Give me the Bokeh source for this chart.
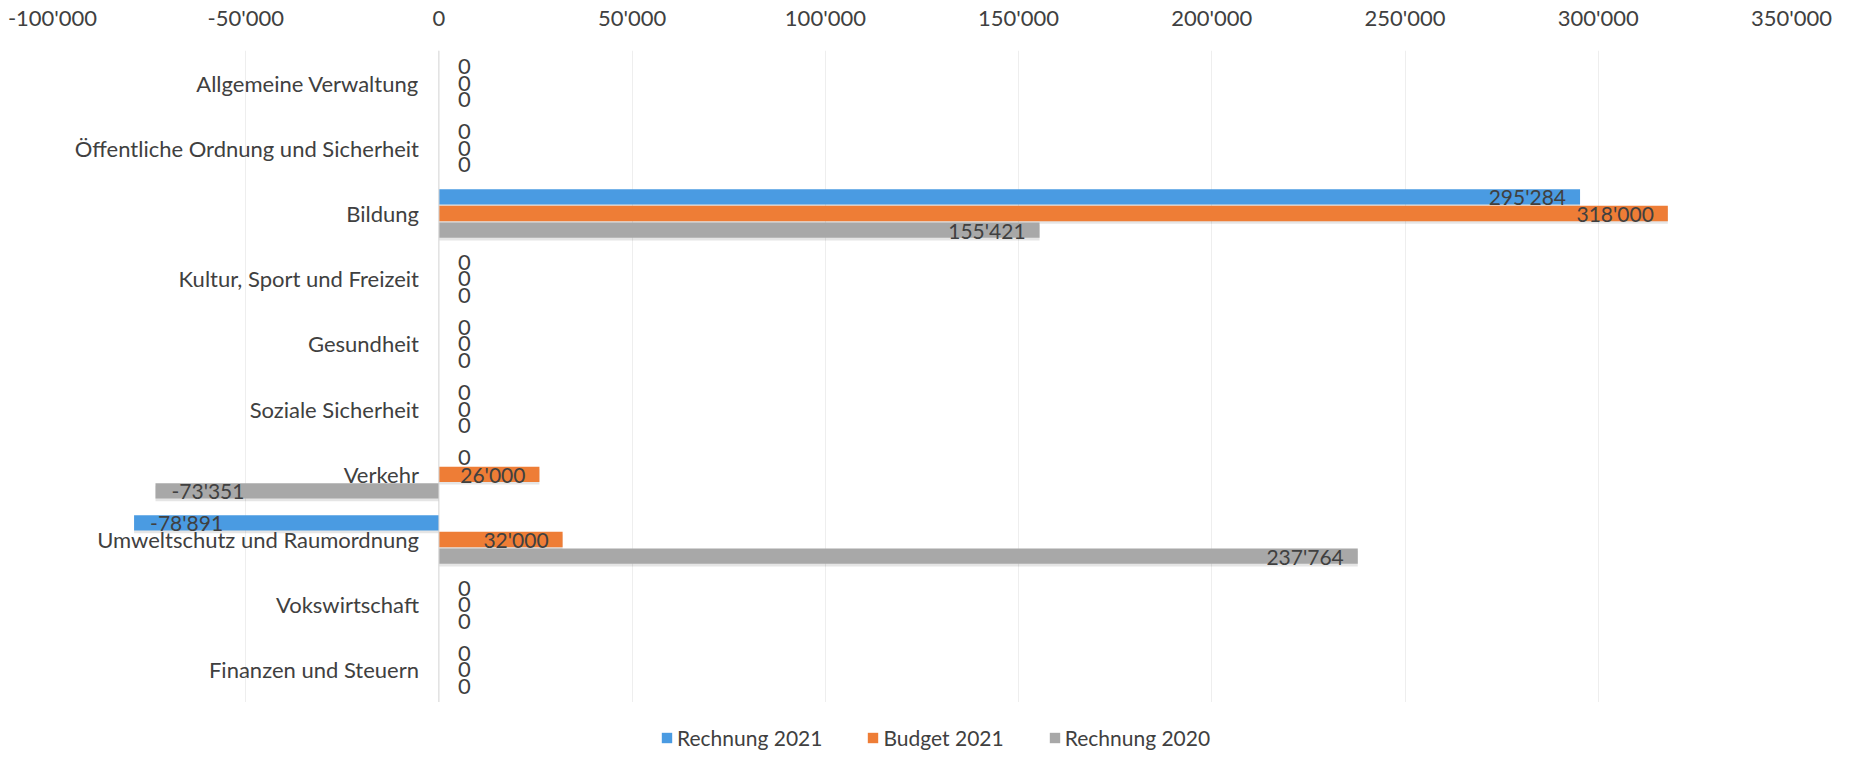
from bokeh.plotting import figure
from bokeh.layouts import column
from bokeh.models import (FactorRange, ColumnDataSource, FixedTicker, Span,
                          Legend, LegendItem)
from bokeh.transform import dodge
from bokeh.core.properties import value
from bokeh.embed import file_html
from bokeh.resources import INLINE

categories = [
    "Allgemeine Verwaltung",
    "Öffentliche Ordnung und Sicherheit",
    "Bildung",
    "Kultur, Sport und Freizeit",
    "Gesundheit",
    "Soziale Sicherheit",
    "Verkehr",
    "Umweltschutz und Raumordnung",
    "Vokswirtschaft",
    "Finanzen und Steuern",
]
rechnung_2021 = [0, 0, 295284, 0, 0, 0, 0, -78891, 0, 0]
budget_2021 = [0, 0, 318000, 0, 0, 0, 26000, 32000, 0, 0]
rechnung_2020 = [0, 0, 155421, 0, 0, 0, -73351, 237764, 0, 0]
series_names = ["Rechnung 2021", "Budget 2021", "Rechnung 2020"]
series_colors = ["#4A9BE2", "#EE7D36", "#A8A8A8"]
x_ticks = [-100000, -50000, 0, 50000, 100000, 150000, 200000, 250000, 300000, 350000]

FONT = "Lato"
TXT = "#404040"


def fmt(v):
    return f"{v:,}".replace(",", "'")


p = figure(width=1839, height=702, output_backend="svg", toolbar_location=None,
           x_range=(-100000, 350000), y_range=FactorRange(factors=categories[::-1]),
           x_axis_location="above", y_axis_location=None,
           min_border_left=52, min_border_right=48, min_border_top=48,
           min_border_bottom=0)
p.outline_line_color = None
p.ygrid.visible = False
p.xgrid.grid_line_color = "#eeeeee"
p.xaxis.ticker = FixedTicker(ticks=x_ticks)
p.xaxis.major_label_overrides = {t: fmt(t) for t in x_ticks}
p.xaxis.axis_line_color = None
p.xaxis.major_tick_line_color = None
p.xaxis.minor_tick_line_color = None
p.xaxis.major_label_standoff = 14
p.xaxis.major_label_text_font = FONT
p.xaxis.major_label_text_font_size = "22px"
p.xaxis.major_label_text_color = TXT

p.add_layout(Span(location=0, dimension="height", line_color="#d9d9d9", line_width=1))

offsets = [0.255, 0.0, -0.255]
series = [rechnung_2021, budget_2021, rechnung_2020]
for vals, name, color, off in zip(series, series_names, series_colors, offsets):
    src = ColumnDataSource(dict(cat=categories, val=vals))
    # soft shadow
    p.hbar(y=dodge("cat", off - 0.04, range=p.y_range), left=0, right="val", source=src,
           height=0.235, fill_color="#000000", fill_alpha=0.10, line_color=None)
    p.hbar(y=dodge("cat", off, range=p.y_range), left=0, right="val", source=src,
           height=0.235, fill_color=color, line_color=None)

for vals, off in zip(series, offsets):
    pos = [(c, v) for c, v in zip(categories, vals) if v > 0]
    neg = [(c, v) for c, v in zip(categories, vals) if v < 0]
    zer = [c for c, v in zip(categories, vals) if v == 0]
    if pos:
        s = ColumnDataSource(dict(cat=[c for c, _ in pos], val=[v for _, v in pos],
                                  lab=[fmt(v) for _, v in pos]))
        p.text(x="val", y=dodge("cat", off, range=p.y_range), text="lab", source=s,
               x_offset=-14, text_align="right", text_baseline="middle",
               text_font=value(FONT), text_font_size="21px", text_color=TXT)
    if neg:
        s = ColumnDataSource(dict(cat=[c for c, _ in neg], val=[v for _, v in neg],
                                  lab=[fmt(v) for _, v in neg]))
        p.text(x="val", y=dodge("cat", off, range=p.y_range), text="lab", source=s,
               x_offset=16, text_align="left", text_baseline="middle",
               text_font=value(FONT), text_font_size="21px", text_color=TXT)
    if zer:
        s = ColumnDataSource(dict(cat=zer, lab=["0"] * len(zer)))
        p.text(x=0, y=dodge("cat", off, range=p.y_range), text="lab", source=s,
               x_offset=19, text_align="left", text_baseline="middle",
               text_font=value(FONT), text_font_size="22px", text_color=TXT)

cat_src = ColumnDataSource(dict(cat=categories))
p.text(x=0, y="cat", text="cat", source=cat_src, x_offset=-20, text_align="right",
       text_baseline="middle", text_font=value(FONT), text_font_size="22px",
       text_color=TXT)

# legend strip below the chart (swatch renderers sit outside the visible range)
lf = figure(width=1839, height=48, output_backend="svg", toolbar_location=None,
            x_range=(0, 1), y_range=(0, 1), x_axis_location=None, y_axis_location=None,
            min_border_left=0, min_border_right=0, min_border_top=0, min_border_bottom=0)
lf.outline_line_color = None
lf.xgrid.visible = False
lf.ygrid.visible = False
leg_renderers = []
for color in series_colors:
    leg_renderers.append(lf.hbar(y=[-10], right=[-9], left=[-10], height=0.5,
                                 fill_color=color, line_color=None))
legend = Legend(items=[LegendItem(label=n, renderers=[r]) for n, r in zip(series_names, leg_renderers)],
                orientation="horizontal", location=(608, 0), margin=0, padding=0,
                spacing=44, label_standoff=4, glyph_width=13, glyph_height=13,
                label_text_font=FONT, label_text_font_size="21px", label_text_color=TXT,
                border_line_color=None, background_fill_alpha=0)
lf.add_layout(legend)

open("out.html", "w").write(file_html(column(p, lf), INLINE))
